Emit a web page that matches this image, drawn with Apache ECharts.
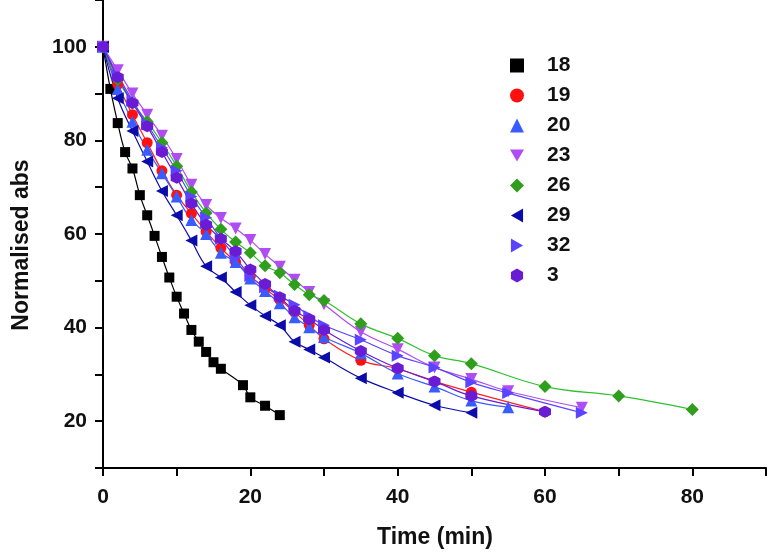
<!DOCTYPE html>
<html><head><meta charset="utf-8">
<script src="https://cdn.jsdelivr.net/npm/echarts@6/dist/echarts.min.js"></script>
<style>html,body{margin:0;padding:0;background:#fff}#c{width:769px;height:553px}</style>
</head><body><div id="c"></div>
<script>
// Data (time in min, normalised absorbance)
const names = ['18','19','20','23','26','29','32','3'];
const t18 = [0,1,2,3,4,5,6,7,8,9,10,11,12,13,14,15,16,19,20,22,24];
const v18 = [100,91,83.7,77.5,74,68.3,64,59.6,55.1,50.7,46.6,43,39.5,37,34.8,32.6,31.2,27.7,25.1,23.3,21.3];
const t19 = [0,2,4,6,8,10,12,14,16,18,20,22,24,26,28,30,35,40,45,50,60];
const v19 = [100,92,85.5,79.5,73.5,68.3,64.4,60.5,57,54,51,48.3,46,43.3,40.5,37.6,33,31.2,28.5,26.2,22];
const t20 = [0,2,4,6,8,10,12,14,16,18,20,22,24,26,28,30,35,40,45,50,55];
const v20 = [100,91,84,78,73,68,63,60,56,54,50.5,47.8,45.2,42.2,40.1,38,34.5,30.2,27.4,24.4,23];
const t23 = [0,2,4,6,8,10,12,14,16,18,20,22,24,26,28,30,35,40,45,50,55,65];
const v23 = [100,95,90,85.5,81,76,70.5,66.2,63.4,61.2,58.7,55.7,53,50.2,47.6,45,39.1,35.4,31.5,29,26.4,22.9];
const t26 = [0,2,4,6,8,10,12,14,16,18,20,22,24,26,28,30,35,40,45,50,60,70,80];
const v26 = [100,93,88,84,79.5,74.5,69,64.5,61,58.3,56,53.2,51.7,49.2,47,45.8,40.8,37.7,34,32.3,27.4,25.4,22.5];
const t29 = [0,2,4,6,8,10,12,14,16,18,20,22,24,26,28,30,35,40,45,50];
const v29 = [100,89,82,75.5,69.2,64,58.6,53.1,50.7,47.6,44.8,42.5,40.5,37,35.3,33.6,29.2,26.1,23.4,21.8];
const t32 = [0,2,4,6,8,10,12,14,16,18,20,22,24,26,28,30,35,40,45,50,55,65];
const v32 = [100,94,88.5,83.5,78.5,73.5,68,63.5,59,55,51,48.6,46.8,44.9,42.5,40.5,37.4,34,31.5,28.3,26,21.8];
const t3 = [0,2,4,6,8,10,12,14,16,18,20,22,24,26,28,30,35,40,45,50,60];
const v3 = [100,93.5,88,83,77.5,72,66.5,62,59,56.3,52.4,49.3,46.5,43.6,41.8,39.5,35,31.3,28.5,25.4,22];
const xTicks = [0,20,40,60,80];
const yTicks = [20,40,60,80,100];

const times = [t18,t19,t20,t23,t26,t29,t32,t3];
const vals = [v18,v19,v20,v23,v26,v29,v32,v3];
const colors = ['#000000','#ff1010','#3a5cff','#b04cf4','#2e9e1c','#0c0caa','#5a44ff','#6a1cd4'];
const lineColors = ['#000000','#ff2020','#3a5cff','#b04cf4','#30c030','#0c0caa','#5a44ff','#6a1cd4'];
const symbols = [
  'rect','circle','triangle',
  'path://M0,0 L10,0 L5,8.7 Z',
  'diamond',
  'path://M8.7,0 L8.7,10 L0,5 Z',
  'path://M0,0 L0,10 L8.7,5 Z',
  'path://M5,0 L9.33,2.5 L9.33,7.5 L5,10 L0.67,7.5 L0.67,2.5 Z'
];
const sizes = [10,11,12,12,13,12,12,12];

const series = [];
names.forEach((n,i)=>{
  const d = times[i].map((t,j)=>[t, vals[i][j]]);
  series.push({name:n+' fit', type:'line', data:d, smooth:0.4, showSymbol:false, symbol:'none',
    lineStyle:{color:lineColors[i], width:1.2}, z:2, silent:true});
});
names.forEach((n,i)=>{
  const d = times[i].map((t,j)=>[t, vals[i][j]]);
  series.push({name:n, type:'scatter', data:d, symbol:symbols[i], symbolSize:sizes[i],
    itemStyle:{color:colors[i], opacity:1}, z:3});
});

const chart = echarts.init(document.getElementById('c'), null, {renderer:'canvas'});
const FF = '"Liberation Sans", Arial, sans-serif';
const axFont = {fontFamily:FF, fontWeight:'bold', fontSize:21, color:'#111'};
chart.setOption({
  animation:false,
  grid:{left:103, right:3, top:-21, bottom:85, containLabel:false},
  xAxis:{type:'value', min:0, max:90, interval:10,
    axisLine:{lineStyle:{color:'#000', width:2}},
    axisTick:{length:8, lineStyle:{color:'#000', width:2}},
    splitLine:{show:false},
    axisLabel:Object.assign({margin:19, formatter:v=> xTicks.includes(v)? String(v):''}, axFont)},
  yAxis:{type:'value', min:10, max:110, interval:10,
    axisLine:{lineStyle:{color:'#000', width:2}},
    axisTick:{length:8, lineStyle:{color:'#000', width:2}},
    splitLine:{show:false},
    axisLabel:Object.assign({margin:16, formatter:v=> yTicks.includes(v)? String(v):''}, axFont)},
  legend:{data:names, orient:'vertical', left:505, top:50, itemWidth:14, itemHeight:14, itemGap:9,
    textStyle:{fontFamily:FF, fontWeight:'bold', fontSize:21, lineHeight:21, color:'#111', padding:[0,0,0,18]}},
  graphic:[
    {type:'text', x:435, y:538, style:{text:'Time (min)', font:'bold 23px "Liberation Sans", Arial, sans-serif', fill:'#111', textAlign:'center', textVerticalAlign:'middle'}},
    {type:'text', rotation:Math.PI/2, x:22, y:245, style:{text:'Normalised abs', font:'bold 23px "Liberation Sans", Arial, sans-serif', fill:'#111', textAlign:'center', textVerticalAlign:'middle'}}
  ],
  series:series
});
</script></body></html>
